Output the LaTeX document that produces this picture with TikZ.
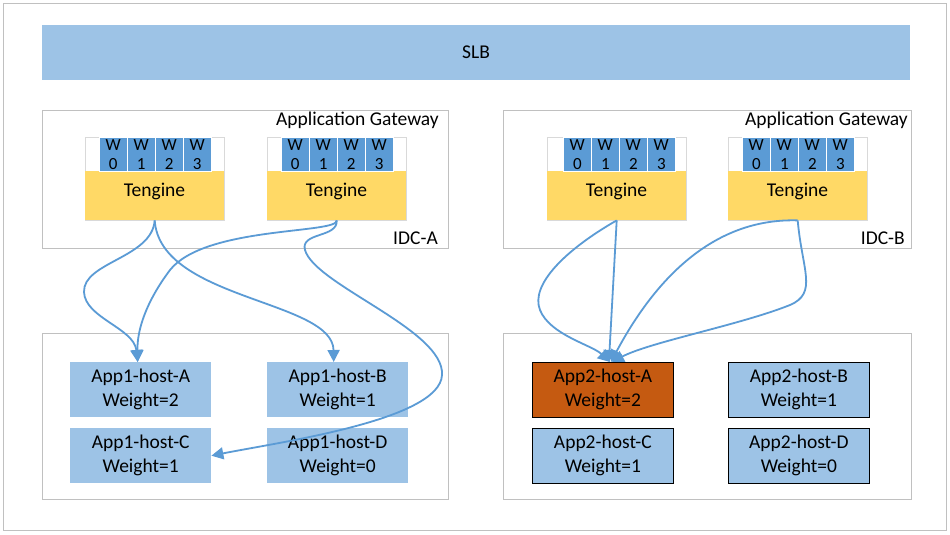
\documentclass[tikz,border=0pt]{standalone}
\usepackage{fontspec}
\setmainfont{Carlito}
\usetikzlibrary{arrows.meta}
\definecolor{slbblue}{HTML}{9DC3E6}
\definecolor{wblue}{HTML}{5B9BD5}
\definecolor{tyel}{HTML}{FFD966}
\definecolor{hostorange}{HTML}{C55A11}
\definecolor{arrowblue}{HTML}{5B9BD5}
\definecolor{framegray}{HTML}{C0C0C0}
\definecolor{lightgray2}{HTML}{D9D9D9}
\tikzset{
  txt/.style={font=\fontsize{19.5}{24}\selectfont, text=black, inner sep=0pt},
  groupbox/.style={draw=framegray, line width=0.8pt, fill=white, inner sep=0pt, anchor=north west},
  tframe/.style={draw=lightgray2, line width=0.6pt, fill=white, minimum width=139pt, minimum height=83pt, inner sep=0pt},
  tyellow/.style={fill=tyel, minimum width=139pt, minimum height=49pt, inner sep=0pt},
  wcell/.style={fill=wblue, draw=white, line width=0.6pt, minimum width=28pt, minimum height=34pt, inner sep=0pt, align=center, font=\fontsize{17}{19}\selectfont},
  hostA/.style={txt, fill=slbblue, minimum width=141pt, minimum height=55pt, align=center},
  hostB/.style={hostA, draw=black, line width=0.8pt},
  flow/.style={draw=arrowblue, line width=1.8pt},
  tip/.style={-{Triangle[width=12pt,length=12pt]}},
}
\newcommand\tengbox[3]{%
  \node[tframe, anchor=north west] (#1) at (#2,137) {};
  \node[tyellow, anchor=north west] (#1y) at (#2,171) {};
  \node[txt] (#1t) at ({#2+69.5},191) {Tengine};
  \foreach \i in {0,...,3}{\node[wcell, anchor=north west] (#1w\i) at ({#3+\i*28},137) {W\\\i};}
}
\begin{document}
\begin{tikzpicture}[x=1pt,y=-1pt]
\useasboundingbox (0,0) rectangle (950,535);
% outer frame
\node[groupbox, minimum width=943pt, minimum height=527pt] (outer) at (3,3) {};
% SLB
\node[fill=slbblue, minimum width=868pt, minimum height=55pt, inner sep=0pt, anchor=north west] (slb) at (42,25) {};
\node[txt] (slbt) at (476,52) {SLB};
% IDC groups
\node[groupbox, minimum width=406pt, minimum height=138pt] (idca) at (42,110) {};
\node[groupbox, minimum width=408pt, minimum height=138pt] (idcb) at (503,110) {};
\node[txt, anchor=east] (gwa) at (439,120) {Application Gateway};
\node[txt, anchor=east] (gwb) at (908,120) {Application Gateway};
\node[txt, anchor=east] (idcat) at (438,238) {IDC-A};
\node[txt, anchor=east] (idcbt) at (905,238) {IDC-B};
% Tengines
\tengbox{ta}{85}{99}
\tengbox{tb}{267}{281}
\tengbox{tc}{547}{563}
\tengbox{td}{728}{742}
% app groups
\node[groupbox, minimum width=406pt, minimum height=166pt] (appa) at (42,333) {};
\node[groupbox, minimum width=408pt, minimum height=166pt] (appb) at (503,333) {};
% hosts
\node[hostA, anchor=north west] (h1a) at (70,362) {App1-host-A\\Weight=2};
\node[hostA, anchor=north west] (h1b) at (267,362) {App1-host-B\\Weight=1};
\node[hostA, anchor=north west] (h1c) at (70,428) {App1-host-C\\Weight=1};
\node[hostA, anchor=north west] (h1d) at (267,428) {App1-host-D\\Weight=0};
\node[hostB, fill=hostorange, anchor=north west] (h2a) at (532,362) {App2-host-A\\Weight=2};
\node[hostB, anchor=north west] (h2b) at (728,362) {App2-host-B\\Weight=1};
\node[hostB, anchor=north west] (h2c) at (532,428) {App2-host-C\\Weight=1};
\node[hostB, anchor=north west] (h2d) at (728,428) {App2-host-D\\Weight=0};
% flows IDC-A
\draw[flow, tip] (tay.south) .. controls (152,258) and (83,262) .. (84,292)
   .. controls (85,318) and (134,328) .. ([xshift=-3pt]h1a.north);
\draw[flow, tip] (tay.south) .. controls (160,300) and (333,300) .. ([xshift=-4pt]h1b.north);
\draw[flow, tip] (tby.south) .. controls (338,234) and (205,226) .. (170,270)
   .. controls (146,302) and (137,330) .. ([xshift=-3pt]h1a.north);
\draw[flow, tip] (tby.south) .. controls (338,238) and (300,232) .. (305,250)
   .. controls (315,285) and (445,330) .. (442,375)
   .. controls (440,420) and (280,442) .. (h1c.east);
% flows IDC-B
\draw[flow, tip] (tcy.south) .. controls (565,250) and (530,285) .. (540,310)
   .. controls (550,335) and (592,345) .. ([xshift=7pt]h2a.north);
\draw[flow, tip] (tcy.south) -- ([xshift=6pt]h2a.north);
\draw[flow, tip] (tdy.south) .. controls (720,218) and (660,270) .. ([xshift=8pt]h2a.north);
\draw[flow, tip] (tdy.south) .. controls (802,270) and (818,293) .. (790,305)
   .. controls (740,325) and (650,342) .. ([xshift=9pt]h2a.north);
\end{tikzpicture}
\end{document}
